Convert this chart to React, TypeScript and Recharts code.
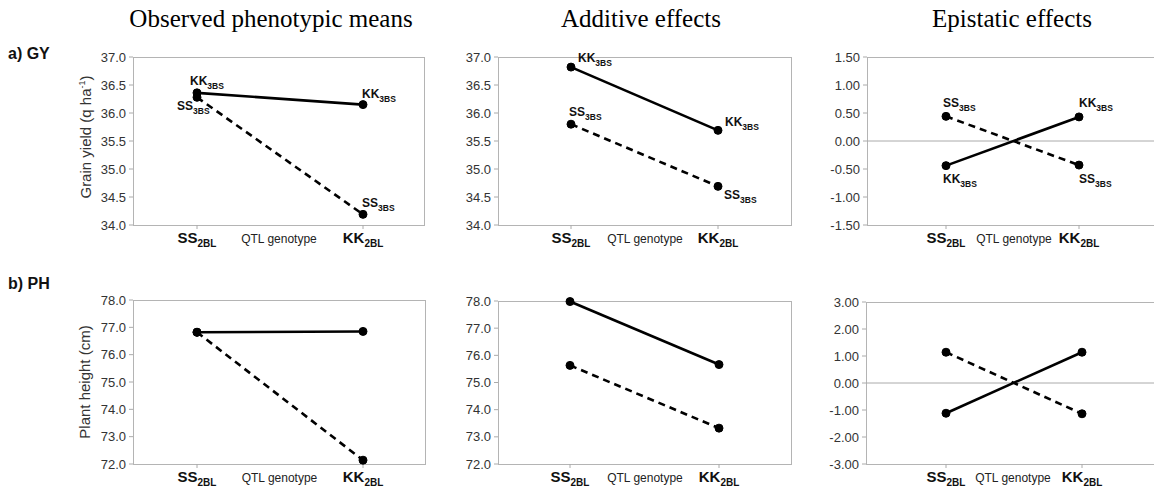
import { LineChart, Line, XAxis, YAxis, ReferenceLine, LabelList } from "recharts";

const genotypes = ["SS2BL", "KK2BL"];

// grain yield
const gyObservedKK = [36.36, 36.15];
const gyObservedSS = [36.28, 34.19];
const gyAdditiveKK = [36.82, 35.69];
const gyAdditiveSS = [35.8, 34.69];
const gyEpistaticKK = [-0.44, 0.43];
const gyEpistaticSS = [0.44, -0.43];

// plant height
const phObservedKK = [76.82, 76.85];
const phObservedSS = [76.82, 72.14];
const phAdditiveKK = [77.98, 75.66];
const phAdditiveSS = [75.63, 73.32];
const phEpistaticKK = [-1.12, 1.14];
const phEpistaticSS = [1.14, -1.14];

const gyTicks = [34, 34.5, 35, 35.5, 36, 36.5, 37];
const gyEpiTicks = [-1.5, -1, -0.5, 0, 0.5, 1, 1.5];
const phTicks = [72, 73, 74, 75, 76, 77, 78];
const phEpiTicks = [-3, -2, -1, 0, 1, 2, 3];

const columnTitles = ["Observed phenotypic means", "Additive effects", "Epistatic effects"];
const rowTitles = ["a) GY", "b) PH"];
const seriesNames = { kk: "KK", ss: "SS" };
const seriesSub = "3BS";
const xTitle = "QTL genotype";

const SANS = "'Liberation Sans', Arial, sans-serif";
const SERIF = "'Liberation Serif', 'Times New Roman', serif";

type Off = number[][];

interface IPanel {
  left: number;
  top: number;
  plotW: number;
  plotH: number;
  pad: number[];
  ticks: number[];
  digits: number;
  kk: number[];
  ss: number[];
  kkOff?: Off;
  ssOff?: Off;
  zero?: boolean;
}

const GenoTick = (props: any) => {
  const { x, y, payload } = props;
  const v: string = payload.value;
  return (
    <text x={x} y={y + 12} textAnchor="middle" fontFamily={SANS} fontWeight="bold" fontSize={15} fill="#111">
      <tspan>{v.slice(0, 2)}</tspan>
      <tspan fontSize={10} dy={4}>{v.slice(2)}</tspan>
    </text>
  );
};

const pointLabel = (name: string, off: Off) => (props: any) => {
  const { x, y, index } = props;
  const o = off[index];
  return (
    <text x={x + o[0]} y={y + o[1]} fontFamily={SANS} fontWeight="bold" fontSize={12} fill="#111">
      <tspan>{name}</tspan>
      <tspan fontSize={8.5} dy={4}>{seriesSub}</tspan>
    </text>
  );
};

const Panel = (p: IPanel) => {
  const data = genotypes.map((g, i) => ({ g, kk: p.kk[i], ss: p.ss[i] }));
  const ml = 70;
  const mt = 12;
  return (
    <>
      <div
        style={{
          position: "absolute",
          left: p.left,
          top: p.top,
          width: p.plotW,
          height: p.plotH + 1,
          border: "1px solid #b4b4b4",
          boxSizing: "border-box",
        }}
      />
      <div style={{ position: "absolute", left: p.left - ml, top: p.top - mt }}>
        <LineChart
          width={p.plotW + ml + 4}
          height={p.plotH + mt + 40}
          data={data}
          margin={{ top: mt, right: 4, bottom: 0, left: 0 }}
        >
          <XAxis
            dataKey="g"
            type="category"
            interval={0}
            padding={{ left: p.pad[0], right: p.pad[1] }}
            axisLine={false}
            tickLine={{ stroke: "#aaa" }}
            tickSize={4}
            height={40}
            tick={<GenoTick />}
            label={{ value: xTitle, position: "insideTop", offset: 9, fontSize: 12, fill: "#222", fontFamily: SANS }}
          />
          <YAxis
            width={ml}
            domain={[p.ticks[0], p.ticks[p.ticks.length - 1]]}
            ticks={p.ticks}
            interval={0}
            axisLine={false}
            tickLine={{ stroke: "#aaa" }}
            tickSize={4}
            tickMargin={3}
            tickFormatter={(v: number) => v.toFixed(p.digits)}
            tick={{ fontSize: 13, fill: "#333", fontFamily: SANS }}
          />
          {p.zero && <ReferenceLine y={0} stroke="#aaa" strokeWidth={1} />}
          <Line
            dataKey="ss"
            stroke="#000"
            strokeWidth={2.6}
            strokeDasharray="7 5"
            dot={{ r: 4, fill: "#000", stroke: "#000", strokeWidth: 1, strokeDasharray: "" }}
            isAnimationActive={false}
          >
            {p.ssOff && <LabelList dataKey="ss" content={pointLabel(seriesNames.ss, p.ssOff)} />}
          </Line>
          <Line
            dataKey="kk"
            stroke="#000"
            strokeWidth={2.6}
            dot={{ r: 4, fill: "#000", stroke: "#000", strokeWidth: 1 }}
            isAnimationActive={false}
          >
            {p.kkOff && <LabelList dataKey="kk" content={pointLabel(seriesNames.kk, p.kkOff)} />}
          </Line>
        </LineChart>
      </div>
    </>
  );
};

const titleStyle = (cx: number): React.CSSProperties => ({
  position: "absolute",
  left: cx,
  top: 6,
  transform: "translateX(-50%)",
  fontFamily: SERIF,
  fontSize: 25,
  lineHeight: "25px",
  whiteSpace: "nowrap",
  color: "#000",
});

const rowStyle = (top: number): React.CSSProperties => ({
  position: "absolute",
  left: 8,
  top,
  fontFamily: SANS,
  fontWeight: "bold",
  fontSize: 16,
  lineHeight: "16px",
  color: "#111",
});

const yTitleStyle = (cy: number): React.CSSProperties => ({
  position: "absolute",
  left: 84,
  top: cy,
  transform: "translate(-50%, -50%) rotate(-90deg)",
  fontFamily: SANS,
  fontSize: 15,
  lineHeight: "15px",
  whiteSpace: "nowrap",
  color: "#333",
});

export default function App() {
  return (
    <div
      style={{
        position: "absolute",
        left: 0,
        top: 0,
        width: 1154,
        height: 491,
        overflow: "hidden",
        background: "#fff",
      }}
    >
      <div style={titleStyle(271)}>{columnTitles[0]}</div>
      <div style={titleStyle(641)}>{columnTitles[1]}</div>
      <div style={titleStyle(1012)}>{columnTitles[2]}</div>
      <div style={rowStyle(46)}>{rowTitles[0]}</div>
      <div style={rowStyle(276)}>{rowTitles[1]}</div>
      <div style={yTitleStyle(137)}>
        Grain yield (q ha<sup style={{ fontSize: 9 }}>-1</sup>)
      </div>
      <div style={yTitleStyle(382)}>Plant height (cm)</div>

      <Panel
        left={133} top={57} plotW={292} plotH={168} pad={[64, 62]}
        ticks={gyTicks} digits={1} kk={gyObservedKK} ss={gyObservedSS}
        kkOff={[[-7, -8], [-1, -7]]} ssOff={[[-20, 13], [-1, -7]]}
      />
      <Panel
        left={498} top={57} plotW={294} plotH={168} pad={[73, 74]}
        ticks={gyTicks} digits={1} kk={gyAdditiveKK} ss={gyAdditiveSS}
        kkOff={[[7, -5], [7, -4]]} ssOff={[[-2, -8], [6, 13]]}
      />
      <Panel
        left={867} top={57} plotW={294} plotH={168} pad={[79, 82]}
        ticks={gyEpiTicks} digits={2} kk={gyEpistaticKK} ss={gyEpistaticSS}
        kkOff={[[-3, 17], [0, -10]]} ssOff={[[-3, -9], [0, 18]]} zero
      />
      <Panel
        left={133} top={300} plotW={293} plotH={164} pad={[64, 63]}
        ticks={phTicks} digits={1} kk={phObservedKK} ss={phObservedSS}
      />
      <Panel
        left={498} top={301} plotW={294} plotH={163} pad={[72, 73]}
        ticks={phTicks} digits={1} kk={phAdditiveKK} ss={phAdditiveSS}
      />
      <Panel
        left={866} top={302} plotW={294} plotH={162} pad={[80, 78]}
        ticks={phEpiTicks} digits={2} kk={phEpistaticKK} ss={phEpistaticSS} zero
      />
    </div>
  );
}
